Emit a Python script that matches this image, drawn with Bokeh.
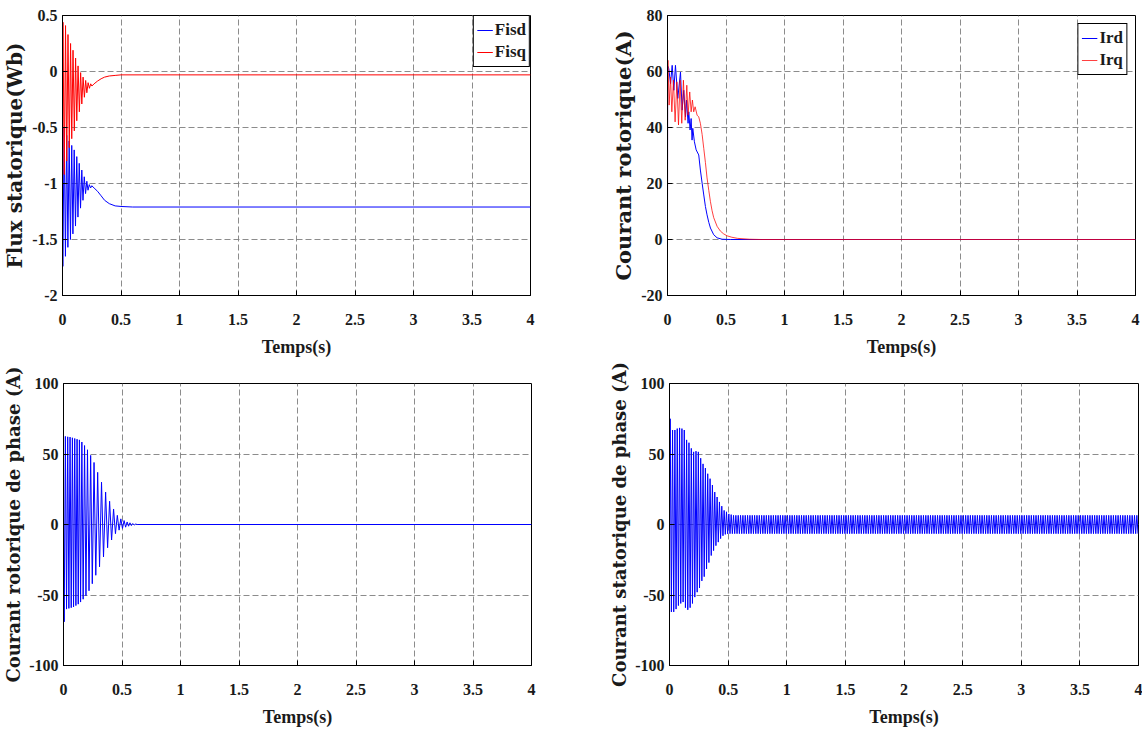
from bokeh.plotting import figure
from bokeh.layouts import column, row
from bokeh.models import FixedTicker, Legend, LegendItem
from bokeh.embed import file_html
from bokeh.resources import INLINE

# ---------------- data ----------------
x_ticks = [0, 0.5, 1, 1.5, 2, 2.5, 3, 3.5, 4]
x_tick_labels = ["0", "0.5", "1", "1.5", "2", "2.5", "3", "3.5", "4"]

flux_ticks = [-2, -1.5, -1, -0.5, 0, 0.5]
flux_tick_labels = ["-2", "-1.5", "-1", "-0.5", "0", "0.5"]
ir_ticks = [-20, 0, 20, 40, 60, 80]
ir_tick_labels = ["-20", "0", "20", "40", "60", "80"]
phase_ticks = [-100, -50, 0, 50, 100]
phase_tick_labels = ["-100", "-50", "0", "50", "100"]

# stator flux (Wb)
fisd_t = [0, 0.003, 0.014, 0.025, 0.036, 0.046, 0.057, 0.068, 0.079, 0.089, 0.100,
          0.111, 0.122, 0.132, 0.143, 0.154, 0.165, 0.175, 0.186, 0.197, 0.208,
          0.218, 0.229, 0.240, 0.250, 0.27, 0.30, 0.33, 0.36, 0.40, 0.45, 0.50, 0.60, 4.0]
fisd_v = [-1.05, -1.74, -0.50, -1.65, -0.57, -1.57, -0.62, -1.50, -0.66, -1.45, -0.70,
          -1.38, -0.76, -1.30, -0.82, -1.22, -0.88, -1.15, -0.94, -1.09, -0.98,
          -1.06, -1.01, -1.04, -1.02, -1.04, -1.07, -1.11, -1.15, -1.18, -1.20, -1.205, -1.21, -1.21]
fisq_t = [0, 0.004, 0.015, 0.026, 0.036, 0.047, 0.058, 0.069, 0.079, 0.090, 0.101,
          0.112, 0.122, 0.133, 0.144, 0.155, 0.165, 0.176, 0.187, 0.198, 0.208,
          0.219, 0.230, 0.241, 0.251, 0.27, 0.30, 0.33, 0.36, 0.40, 0.45, 0.50, 4.0]
fisq_v = [-1.05, 0.44, -0.92, 0.41, -0.80, 0.33, -0.68, 0.25, -0.60, 0.19, -0.53,
          0.12, -0.44, 0.05, -0.36, -0.01, -0.29, -0.05, -0.23, -0.08, -0.19,
          -0.10, -0.15, -0.11, -0.13, -0.11, -0.085, -0.065, -0.05, -0.04, -0.035, -0.03, -0.03]

# rotor current d-q (A)
ird_t = [0, 0.001, 0.011, 0.026, 0.040, 0.054, 0.068, 0.088, 0.111, 0.125, 0.139, 0.154,
         0.162, 0.176, 0.182, 0.193, 0.202, 0.210, 0.216, 0.230, 0.245, 0.267, 0.281,
         0.296, 0.310, 0.324, 0.338, 0.353, 0.367, 0.395, 0.424, 0.466, 0.537, 4.0]
ird_v = [0, 62, 61, 55.7, 62.2, 53.3, 62.2, 50.4, 59.8, 46.2, 53.3, 43.8,
         49.8, 41.5, 45.6, 39.1, 43.2, 35.5, 39.7, 34.9, 32, 30.2, 24.8,
         20.1, 15.9, 11.8, 8.8, 6.1, 4.1, 1.7, 0.6, 0.1, 0, 0]
irq_t = [0, 0.001, 0.004, 0.014, 0.026, 0.037, 0.051, 0.065, 0.080, 0.094, 0.108, 0.122,
         0.136, 0.151, 0.165, 0.176, 0.190, 0.202, 0.213, 0.224, 0.236, 0.253, 0.267,
         0.281, 0.296, 0.310, 0.324, 0.338, 0.353, 0.367, 0.381, 0.395, 0.424, 0.452,
         0.48, 0.51, 0.55, 0.60, 0.70, 0.80, 4.0]
irq_v = [0, 60, 64, 48, 58, 45.6, 56.9, 42, 56.3, 40.9, 56.9, 41.5,
         56.9, 42.6, 55.1, 44.4, 52.7, 45.6, 49.8, 45.6, 47.4, 44.4, 43.8,
         41.5, 37.5, 32.5, 27.5, 22, 17.5, 13.5, 10.3, 7.8, 4.7, 3.0,
         2.0, 1.3, 0.8, 0.4, 0.1, 0, 0]

# rotor phase current (A): successive extremes
ira_t = [0, 0.006, 0.016, 0.026, 0.036, 0.046, 0.056, 0.066, 0.076, 0.086, 0.096,
         0.106, 0.116, 0.126, 0.136, 0.146, 0.157, 0.168, 0.180, 0.192, 0.205,
         0.218, 0.232, 0.246, 0.261, 0.276, 0.292, 0.308, 0.325, 0.342, 0.360,
         0.377, 0.394, 0.411, 0.428, 0.444, 0.460, 0.475, 0.490, 0.504, 0.518,
         0.531, 0.544, 0.556, 0.568, 0.580, 0.592, 0.604, 0.616, 0.63, 4.0]
ira_v = [0, -69, 62.5, -60, 62.2, -59.5, 62, -59, 61.5, -58.5, 61,
         -57.5, 60.5, -56.5, 60, -55, 58.5, -53, 56, -50.5, 53,
         -47, 49, -42, 44, -36, 37, -30, 30, -23, 23,
         -16.5, 16.5, -11, 11, -6.5, 6.5, -4, 4, -2.8, 2.8,
         -1.9, 1.8, -1.2, 1.2, -0.8, 0.7, -0.4, 0.3, 0, 0]

# stator phase current (A): positive / negative peak of each 50 Hz cycle
ias_start = 0.006
ias_period = 0.02
ias_up = [75, 67, 67, 68, 68.5, 68, 67, 60, 58, 54, 51.5, 52, 51.5, 47, 43, 40, 36,
          32.5, 28, 23, 19.5, 16, 13, 10, 9, 7.5, 7] + [6.5] * 173
ias_low = [-62, -62, -60, -57.5, -56, -55, -59, -60.5, -59, -56, -51.5, -48, -45, -40,
           -37, -31.5, -27, -22, -18.5, -15, -12.5, -10, -8, -7, -6.6, -6.5, -6.5] + [-6.5] * 173

BLUE = "#0000ff"
RED = "#ff0000"
TICK_FONT = "Liberation Serif"
LABEL_FONT = "DejaVu Serif"


def make_fig(fw, fh, bl, br, bt, bb, yr, yticks, ylabels, ylabel, ylabel_size):
    p = figure(frame_width=fw, frame_height=fh,
               min_border_left=bl, min_border_right=br,
               min_border_top=bt, min_border_bottom=bb,
               x_range=(0, 4), y_range=yr,
               output_backend="svg", toolbar_location=None, tools="")
    p.background_fill_color = "white"
    p.border_fill_color = "white"
    p.outline_line_color = "black"
    p.outline_line_width = 1
    p.outline_line_alpha = 1

    p.xaxis.ticker = FixedTicker(ticks=x_ticks)
    p.xaxis.major_label_overrides = {float(k): v for k, v in zip(x_ticks, x_tick_labels)}
    p.yaxis.ticker = FixedTicker(ticks=yticks)
    p.yaxis.major_label_overrides = {float(k): v for k, v in zip(yticks, ylabels)}

    for ax in (p.xaxis[0], p.yaxis[0]):
        ax.axis_line_color = "black"
        ax.major_tick_line_color = "black"
        ax.major_tick_in = 5
        ax.major_tick_out = 0
        ax.minor_tick_line_color = None
        ax.major_label_text_font = TICK_FONT
        ax.major_label_text_font_style = "bold"
        ax.major_label_text_font_size = "16px"
        ax.major_label_text_color = "#1a1a1a"
        ax.axis_label_text_font_style = "bold"
        ax.axis_label_text_color = "#1a1a1a"

    p.xaxis.axis_label = "Temps(s)"
    p.xaxis.axis_label_text_font = TICK_FONT
    p.xaxis.axis_label_text_font_size = "18px"
    p.xaxis.major_label_standoff = 18
    p.xaxis.axis_label_standoff = 9

    p.yaxis.axis_label = ylabel
    p.yaxis.axis_label_text_font = LABEL_FONT
    p.yaxis.axis_label_text_font_size = ylabel_size
    p.yaxis.major_label_standoff = 5
    p.yaxis.axis_label_standoff = 2

    p.xgrid[0].ticker = FixedTicker(ticks=x_ticks)
    p.ygrid[0].ticker = FixedTicker(ticks=yticks)
    for g in (p.xgrid[0], p.ygrid[0]):
        g.grid_line_color = "#808080"
        g.grid_line_dash = "6 3"
        g.grid_line_width = 1
        g.grid_line_alpha = 0.9
    return p


def make_legend(items, margin):
    lg = Legend(items=items, location="top_right")
    lg.margin = margin
    lg.padding = 3
    lg.spacing = 0
    lg.glyph_width = 16
    lg.glyph_height = 22
    lg.label_height = 22
    lg.label_standoff = 2
    lg.label_text_font = TICK_FONT
    lg.label_text_font_style = "bold"
    lg.label_text_font_size = "17px"
    lg.label_text_color = "#1a1a1a"
    lg.border_line_color = "black"
    lg.border_line_width = 1
    lg.border_line_alpha = 1
    lg.background_fill_color = "white"
    lg.background_fill_alpha = 1
    return lg


# ---- top-left: stator flux ----
p1 = make_fig(468, 280, 62, 71, 15, 66, (-2, 0.5), flux_ticks, flux_tick_labels,
              "Flux statorique(Wb)", "20px")
r_fisd = p1.line(fisd_t, fisd_v, line_color=BLUE, line_width=1)
r_fisq = p1.line(fisq_t, fisq_v, line_color=RED, line_width=1)
p1.add_layout(make_legend([LegendItem(label="Fisd", renderers=[r_fisd]),
                           LegendItem(label="Fisq", renderers=[r_fisq])], 0))

# ---- top-right: rotor current d/q ----
p2 = make_fig(468, 280, 66, 6, 15, 66, (-20, 80), ir_ticks, ir_tick_labels,
              "Courant rotorique(A)", "21px")
r_ird = p2.line(ird_t, ird_v, line_color=BLUE, line_width=1)
r_irq = p2.line(irq_t, irq_v, line_color=RED, line_width=1, line_alpha=0.75)
p2.add_layout(make_legend([LegendItem(label="Ird", renderers=[r_ird]),
                           LegendItem(label="Irq", renderers=[r_irq])], 8))

# ---- bottom-left: rotor phase current ----
p3 = make_fig(468, 282, 62, 71, 22, 66, (-100, 100), phase_ticks, phase_tick_labels,
              "Courant rotorique de phase (A)", "18px")
p3.line(ira_t, ira_v, line_color=BLUE, line_width=1)

# ---- bottom-right: stator phase current ----
ias_t = [0.0]
ias_v = [0.0]
for k in range(len(ias_up)):
    ias_t.append(ias_start + ias_period * k)
    ias_v.append(ias_up[k])
    ias_t.append(ias_start + ias_period * k + ias_period / 2)
    ias_v.append(ias_low[k])
p4 = make_fig(469, 282, 67, 5, 22, 66, (-100, 100), phase_ticks, phase_tick_labels,
              "Courant statorique de phase (A)", "18px")
p4.line(ias_t, ias_v, line_color=BLUE, line_width=1)

layout = column(row(p1, p2, spacing=0), row(p3, p4, spacing=0), spacing=0)
open("out.html", "w").write(file_html(layout, INLINE))
